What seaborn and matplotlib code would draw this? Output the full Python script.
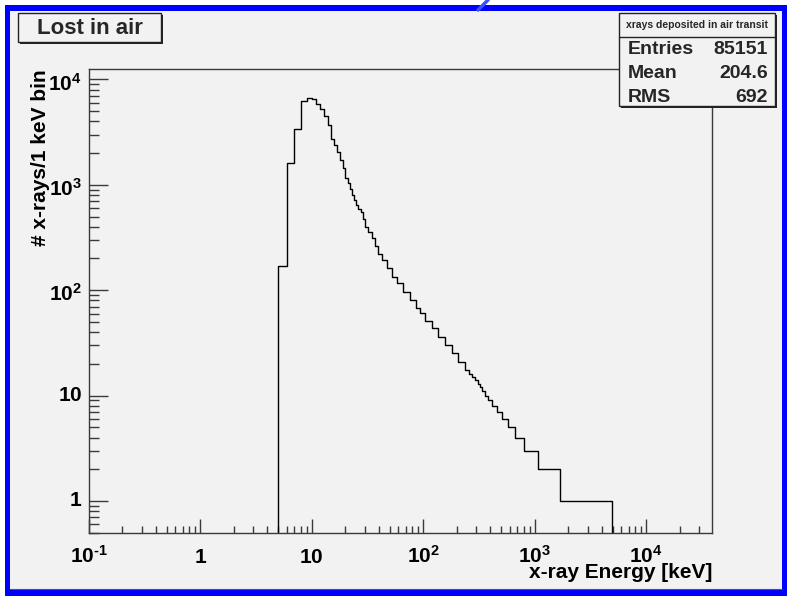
import matplotlib
matplotlib.use("Agg")
import matplotlib.pyplot as plt
from matplotlib.patches import Rectangle
from matplotlib.lines import Line2D
from matplotlib.transforms import ScaledTranslation
from matplotlib.ticker import FixedLocator, FixedFormatter, LogLocator, NullFormatter
import seaborn as sns

# ---------------- data ----------------
bin_edges_keV = [5, 6, 7, 8, 9, 10, 11, 12, 13, 14, 15, 16, 17, 18, 19, 20, 21,
                 22, 23, 24, 25, 26, 27.5, 28.7, 30.1, 32.2, 34.5, 37.0, 39.6,
                 42.4, 47.1, 52.2, 57.8, 66.3, 76.1, 86.2, 93.6, 103.7, 119,
                 136.5, 157, 180, 206, 237, 258, 276.5, 292, 309, 324, 340,
                 359, 385, 413, 458, 507, 582, 668, 809, 1068, 1692, 4925]
counts = [169, 1610, 3380, 6190, 6650, 6570, 5800, 5200, 4460, 3690, 2740,
          2400, 2050, 1710, 1455, 1160, 1030, 921, 808, 713, 640, 586,
          552, 478, 398, 357, 316, 261, 223, 192, 164, 134, 116, 96.4, 80.4,
          67.1, 60.2, 51.2, 43.4, 36.1, 30.1, 25.1, 20.9, 17.5,
          16, 15, 14, 13, 12, 11, 10, 9, 8, 7, 6, 5, 4, 3, 2, 1]

x_ticks = [0.1, 1, 10, 100, 1000, 10000]
x_tick_labels = [r"$10^{\text{-}1}$", r"$1$", r"$10$", r"$10^{2}$", r"$10^{3}$", r"$10^{4}$"]
y_ticks = [1, 10, 100, 1000, 10000]
y_tick_labels = [r"$1$", r"$10$", r"$10^{2}$", r"$10^{3}$", r"$10^{4}$"]

title_text = "Lost in air"
stats_title = "xrays deposited in air transit"
stats_names = ["Entries", "Mean", "RMS"]
stats_values = ["85151", "204.6", "692"]
x_label = "x-ray Energy [keV]"
y_label = "# x-rays/1 keV bin"

# ---------------- style ----------------
sns.set_theme(style="white")
plt.rcParams["font.family"] = ["Liberation Sans", "DejaVu Sans"]
plt.rcParams["font.weight"] = "bold"
plt.rcParams["mathtext.fontset"] = "custom"
plt.rcParams["mathtext.rm"] = "Liberation Sans:bold"
plt.rcParams["mathtext.it"] = "Liberation Sans:bold"
plt.rcParams["mathtext.bf"] = "Liberation Sans:bold"

W, H = 787, 596
fig = plt.figure(figsize=(W / 100, H / 100), dpi=100)
fig.patch.set_facecolor("white")

def fx(px):
    return px / W

def fy(py):
    return 1 - py / H

# canvas frame (blue border + grey pad)
fig.add_artist(Rectangle((fx(5), 0), fx(782), 591 / H, transform=fig.transFigure,
                         facecolor="#0000ff", edgecolor="none", zorder=0))
fig.add_artist(Rectangle((fx(10), fy(589)), fx(772), 578 / H, transform=fig.transFigure,
                         facecolor="#f2f2f2", edgecolor="none", zorder=0))
fig.add_artist(Line2D([fx(10), fx(782)], [fy(588.5), fy(588.5)], transform=fig.transFigure,
                      color="#555555", lw=0.8, zorder=1))
fig.add_artist(Line2D([fx(478), fx(488)], [fy(10), fy(0)], transform=fig.transFigure,
                      color="#3355ff", lw=2.5, zorder=1))

ax_l, ax_r, ax_t, ax_b = 88.7, 712, 69, 533
ax = fig.add_axes([fx(ax_l), fy(ax_b), fx(ax_r - ax_l), (ax_b - ax_t) / H])
ax.set_facecolor("#f2f2f2")
ax.set_xscale("log")
ax.set_yscale("log")

floor = 1e-3
xs = [bin_edges_keV[0]] + list(bin_edges_keV)
ys = [floor] + list(counts) + [floor]
sns.lineplot(x=xs, y=ys, estimator=None, sort=False, drawstyle="steps-post",
             color="black", lw=1.0, ax=ax)

ax.set_xlim(0.1, 3.9e4)
ax.set_ylim(0.497, 1.256e4)

ax.xaxis.set_major_locator(FixedLocator(x_ticks))
ax.xaxis.set_major_formatter(FixedFormatter(x_tick_labels))
ax.xaxis.set_minor_locator(LogLocator(base=10, subs=range(2, 10), numticks=50))
ax.xaxis.set_minor_formatter(NullFormatter())
ax.yaxis.set_major_locator(FixedLocator(y_ticks))
ax.yaxis.set_major_formatter(FixedFormatter(y_tick_labels))
ax.yaxis.set_minor_locator(LogLocator(base=10, subs=range(2, 10), numticks=50))
ax.yaxis.set_minor_formatter(NullFormatter())

frame_c = "#3a3a3a"
for s in ax.spines.values():
    s.set_color(frame_c)
    s.set_linewidth(1.0)
ax.tick_params(axis="both", which="both", direction="in", color=frame_c, width=1.0,
               bottom=True, left=True, top=False, right=False,
               labelsize=15, labelcolor="black")
ax.tick_params(axis="x", which="major", length=10, pad=21.5)
ax.tick_params(axis="x", which="minor", length=5)
ax.tick_params(axis="y", which="major", length=13.7, pad=4.8)
ax.tick_params(axis="y", which="minor", length=7)
for lab in ax.get_xticklabels():
    lab.set_va("baseline")
shift_down = ScaledTranslation(0, -4 / 100, fig.dpi_scale_trans)
for lab in ax.get_yticklabels():
    lab.set_va("center")
    if "^" in lab.get_text():
        lab.set_transform(lab.get_transform() + shift_down)

ax.set_xlabel(x_label, loc="right", fontsize=15, fontweight="bold", color="black")
ax.xaxis.set_label_coords(1.0, -0.065)
ax.set_ylabel(y_label, loc="top", fontsize=15, fontweight="bold", color="black")
ax.yaxis.set_label_coords(-0.062, 1.0)

# title box with shadow
def box(x0, y0, x1, y1):
    fig.add_artist(Rectangle((fx(x0 + 2), fy(y1 + 2)), fx(x1 - x0), (y1 - y0) / H,
                             transform=fig.transFigure, facecolor="#222222",
                             edgecolor="none", zorder=5))
    fig.add_artist(Rectangle((fx(x0), fy(y1)), fx(x1 - x0), (y1 - y0) / H,
                             transform=fig.transFigure, facecolor="#f2f2f2",
                             edgecolor="#222222", lw=1.0, zorder=6))

box(18, 13, 161, 42)
fig.text(fx(90), fy(28.5), title_text, ha="center", va="center", fontsize=16,
         fontweight="bold", zorder=7)

box(619, 13, 775, 106)
fig.add_artist(Line2D([fx(619), fx(775)], [fy(36.7), fy(36.7)], transform=fig.transFigure,
                      color="#222222", lw=1.0, zorder=7))
fig.text(fx(697), fy(25), stats_title, ha="center", va="center", fontsize=7.5,
         fontweight="bold", zorder=7)
row_y = [50, 73.5, 97]
for name, val, yy in zip(stats_names, stats_values, row_y):
    fig.text(fx(627.5), fy(yy), name, ha="left", va="center", fontsize=14,
             fontweight="bold", zorder=7)
    fig.text(fx(768), fy(yy), val, ha="right", va="center", fontsize=14,
             fontweight="bold", zorder=7)

fig.savefig("out.png", dpi=100, facecolor=fig.get_facecolor())
